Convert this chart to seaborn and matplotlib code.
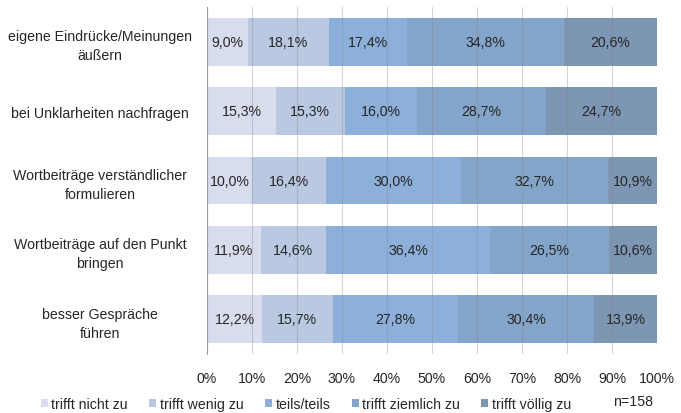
import numpy as np
import pandas as pd
import matplotlib
matplotlib.use("Agg")
import matplotlib.pyplot as plt
import seaborn as sns

categories = ["eigene Eindrücke/Meinungen\näußern",
              "bei Unklarheiten nachfragen",
              "Wortbeiträge verständlicher\nformulieren",
              "Wortbeiträge auf den Punkt\nbringen",
              "besser Gespräche\nführen"]
series = ["trifft nicht zu", "trifft wenig zu", "teils/teils", "trifft ziemlich zu", "trifft völlig zu"]
nicht = [9.0, 15.3, 10.0, 11.9, 12.2]
wenig = [18.1, 15.3, 16.4, 14.6, 15.7]
teils = [17.4, 16.0, 30.0, 36.4, 27.8]
ziemlich = [34.8, 28.7, 32.7, 26.5, 30.4]
voellig = [20.6, 24.7, 10.9, 10.6, 13.9]
colors = ["#D7DDEC", "#BAC8E2", "#8DB0DB", "#83A5CA", "#7D96B4"]
xticks = [0, 10, 20, 30, 40, 50, 60, 70, 80, 90, 100]
note = "n=158"

sns.set_theme(style="white")
plt.rcParams['font.family'] = ['Liberation Sans', 'DejaVu Sans']
FS = 10.2

vals = np.array([nicht, wenig, teils, ziemlich, voellig])
shares = vals / vals.sum(axis=0) * 100
cum = np.cumsum(shares, axis=0)

fig = plt.figure(figsize=(6.81, 4.14), dpi=100)
ax = fig.add_axes([207/681, 1 - 355/414, 450/681, (355 - 8)/414])

for i in range(len(series) - 1, -1, -1):
    df = pd.DataFrame({"cat": categories, "val": cum[i]})
    sns.barplot(data=df, x="val", y="cat", color=colors[i], orient="h",
                width=0.69, ax=ax, saturation=1, edgecolor="none", linewidth=0)

for i in range(len(series)):
    for j in range(len(categories)):
        left = cum[i, j] - shares[i, j]
        ax.text(left + shares[i, j] / 2, j, f"{vals[i, j]:.1f}%".replace(".", ","),
                ha="center", va="center", fontsize=FS, color="#262626")

ax.set_xlim(0, 100)
ax.set_ylim(4.5, -0.5)
ax.set_xticks(xticks)
ax.set_xticklabels([f"{t}%" for t in xticks], fontsize=FS, color="#262626")
ax.set_xlabel("")
ax.set_ylabel("")
ax.set_axisbelow(False)
ax.grid(axis="x", color="#888888", alpha=0.35, linewidth=0.8)
ax.grid(axis="y", visible=False)
for s in ["top", "right", "bottom"]:
    ax.spines[s].set_visible(False)
ax.spines["left"].set_color("#A6A6A6")
ax.spines["left"].set_linewidth(0.8)
ax.tick_params(axis="x", length=0, pad=12)
ax.tick_params(axis="y", length=0, pad=77, labelsize=FS, labelcolor="#262626")
for lab in ax.get_yticklabels():
    lab.set_ha("center")
    lab.set_multialignment("center")
    lab.set_linespacing(1.45)

from matplotlib.patches import Patch
handles = [Patch(facecolor=c, edgecolor="none") for c in colors]
fig.legend(handles, series, loc="center", bbox_to_anchor=(306/681, 1 - 405/414),
           ncol=5, frameon=False, fontsize=FS, handlelength=0.5, handleheight=0.5,
           handletextpad=0.25, columnspacing=1.5, labelcolor="#262626")
fig.text(633/681, 1 - 402/414, note, ha="center", va="center", fontsize=FS, color="#262626")

fig.savefig("out.png", dpi=100)
